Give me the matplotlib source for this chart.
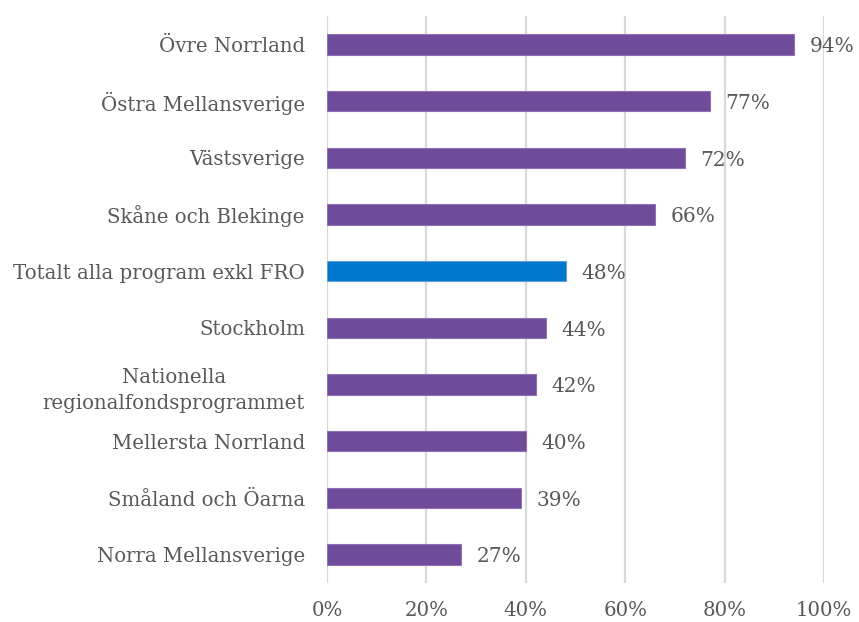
import matplotlib
matplotlib.use('Agg')
from matplotlib import pyplot as plt
from matplotlib.ticker import PercentFormatter

# dados (de cima para baixo)
regioner = ['Övre Norrland', 'Östra Mellansverige', 'Västsverige',
            'Skåne och Blekinge', 'Totalt alla program exkl FRO', 'Stockholm',
            'Nationella\nregionalfondsprogrammet', 'Mellersta Norrland',
            'Småland och Öarna', 'Norra Mellansverige']
andel = [94, 77, 72, 66, 48, 44, 42, 40, 39, 27]
total_idx = 4

lila = '#6F4B99'
bla = '#0077CC'
txt = '#595959'

plt.rcParams['font.family'] = ['DejaVu Serif']

fig = plt.figure(figsize=(8.59, 6.22), dpi=100)
ax = fig.add_axes([327/859, 1-583/622, (824-327)/859, (583-16)/622])

ypos = list(range(len(regioner)))[::-1]
cores = [bla if i == total_idx else lila for i in range(len(regioner))]
kanter = ['#5F9FD8' if i == total_idx else '#8E72B5' for i in range(len(regioner))]
ax.barh(ypos, andel, height=0.36, color=cores, edgecolor=kanter,
        linewidth=0.8, zorder=3)

for y, v in zip(ypos, andel):
    ax.text(v + 3.2, y - 0.04, '%d%%' % v, va='center', ha='left', fontsize=14.5, color=txt)

ax.set_xlim(0, 100)
ax.set_ylim(-0.5, len(regioner) - 0.5)
ax.set_xticks(range(0, 101, 20))
ax.xaxis.set_major_formatter(PercentFormatter(decimals=0))
ax.set_yticks(ypos)
ax.set_yticklabels(regioner, multialignment='center', linespacing=1.5)
ax.tick_params(axis='both', length=0, labelsize=14.2, colors=txt)
ax.tick_params(axis='y', pad=16)
ax.tick_params(axis='x', pad=13)
ax.grid(axis='x', color='#D9D9D9', linewidth=1.6, zorder=0)
for s in ax.spines.values():
    s.set_visible(False)

fig.savefig('out.png', dpi=100)
